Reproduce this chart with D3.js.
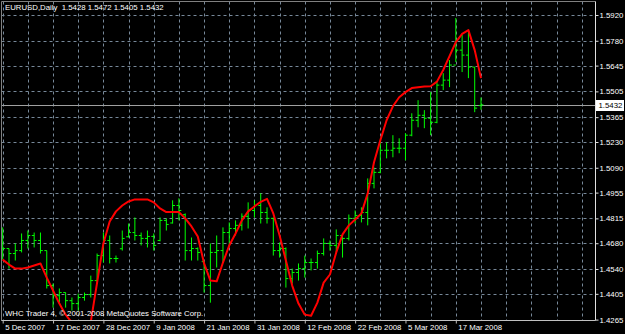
<!DOCTYPE html>
<html lang="en">
<head>
<meta charset="UTF-8">
<title>EURUSD,Daily</title>
<script src="https://d3js.org/d3.v7.min.js"></script>
<style>
    body { margin: 0; background: #000; }
    svg { display: block; background: #000; }
    text { font-family: "Liberation Sans", Arial, sans-serif; font-size: 7.8px; fill: #fff; }
</style>
</head>
<body>
<svg width="625" height="334"></svg>
<script>
// bar dates (one per daily bar)
const dates = [
    "5 Dec 2007", "6 Dec 2007", "7 Dec 2007", "10 Dec 2007", "11 Dec 2007", "12 Dec 2007", "13 Dec 2007", "14 Dec 2007",
    "17 Dec 2007", "18 Dec 2007", "19 Dec 2007", "20 Dec 2007", "21 Dec 2007", "24 Dec 2007", "26 Dec 2007", "27 Dec 2007",
    "28 Dec 2007", "31 Dec 2007", "1 Jan 2008", "2 Jan 2008", "3 Jan 2008", "4 Jan 2008", "7 Jan 2008", "8 Jan 2008",
    "9 Jan 2008", "10 Jan 2008", "11 Jan 2008", "14 Jan 2008", "15 Jan 2008", "16 Jan 2008", "17 Jan 2008", "18 Jan 2008",
    "21 Jan 2008", "22 Jan 2008", "23 Jan 2008", "24 Jan 2008", "25 Jan 2008", "28 Jan 2008", "29 Jan 2008", "30 Jan 2008",
    "31 Jan 2008", "1 Feb 2008", "4 Feb 2008", "5 Feb 2008", "6 Feb 2008", "7 Feb 2008", "8 Feb 2008", "11 Feb 2008",
    "12 Feb 2008", "13 Feb 2008", "14 Feb 2008", "15 Feb 2008", "18 Feb 2008", "19 Feb 2008", "20 Feb 2008", "21 Feb 2008",
    "22 Feb 2008", "25 Feb 2008", "26 Feb 2008", "27 Feb 2008", "28 Feb 2008", "29 Feb 2008", "3 Mar 2008", "4 Mar 2008",
    "5 Mar 2008", "6 Mar 2008", "7 Mar 2008", "10 Mar 2008", "11 Mar 2008", "12 Mar 2008", "13 Mar 2008", "14 Mar 2008",
    "17 Mar 2008", "18 Mar 2008", "19 Mar 2008", "20 Mar 2008", "21 Mar 2008"
];

const opens = [
    1.4720, 1.4651, 1.4624, 1.4640, 1.4695, 1.4722, 1.4695, 1.4640,
    1.4450, 1.4395, 1.4412, 1.4368, 1.4352, 1.4385, 1.4401, 1.4477,
    1.4613, 1.4695, 1.4597, 1.4650, 1.4715, 1.4738, 1.4722, 1.4706,
    1.4717, 1.4695, 1.4804, 1.4790, 1.4885, 1.4835, 1.4640, 1.4651,
    1.4580, 1.4450, 1.4630, 1.4640, 1.4738, 1.4760, 1.4777, 1.4826,
    1.4858, 1.4885, 1.4847, 1.4815, 1.4640, 1.4651, 1.4488, 1.4521,
    1.4542, 1.4575, 1.4575, 1.4624, 1.4679, 1.4668, 1.4722, 1.4706,
    1.4815, 1.4831, 1.4847, 1.5005, 1.5065, 1.5185, 1.5185, 1.5196,
    1.5196, 1.5267, 1.5348, 1.5375, 1.5359, 1.5337, 1.5539, 1.5566,
    1.5648, 1.5729, 1.5702, 1.5637, 1.5428
];
const highs = [
    1.4766, 1.4651, 1.4679, 1.4733, 1.4749, 1.4738, 1.4738, 1.4640,
    1.4461, 1.4434, 1.4412, 1.4385, 1.4406, 1.4412, 1.4504, 1.4624,
    1.4738, 1.4722, 1.4613, 1.4749, 1.4787, 1.4820, 1.4738, 1.4749,
    1.4733, 1.4820, 1.4815, 1.4913, 1.4924, 1.4842, 1.4711, 1.4657,
    1.4586, 1.4679, 1.4722, 1.4766, 1.4793, 1.4804, 1.4842, 1.4902,
    1.4913, 1.4951, 1.4875, 1.4820, 1.4684, 1.4657, 1.4542, 1.4570,
    1.4613, 1.4597, 1.4640, 1.4706, 1.4695, 1.4755, 1.4728, 1.4836,
    1.4858, 1.4875, 1.5032, 1.5092, 1.5228, 1.5228, 1.5267, 1.5250,
    1.5278, 1.5386, 1.5457, 1.5403, 1.5501, 1.5555, 1.5604, 1.5675,
    1.5904, 1.5811, 1.5838, 1.5637, 1.5472
];
const lows = [
    1.4591, 1.4542, 1.4586, 1.4630, 1.4651, 1.4657, 1.4624, 1.4434,
    1.4330, 1.4357, 1.4330, 1.4314, 1.4314, 1.4368, 1.4385, 1.4461,
    1.4575, 1.4570, 1.4575, 1.4640, 1.4711, 1.4695, 1.4668, 1.4657,
    1.4640, 1.4690, 1.4749, 1.4787, 1.4804, 1.4586, 1.4586, 1.4586,
    1.4412, 1.4357, 1.4548, 1.4575, 1.4657, 1.4722, 1.4749, 1.4760,
    1.4820, 1.4787, 1.4787, 1.4613, 1.4602, 1.4439, 1.4461, 1.4477,
    1.4493, 1.4532, 1.4542, 1.4613, 1.4640, 1.4630, 1.4602, 1.4695,
    1.4787, 1.4793, 1.4777, 1.4978, 1.5060, 1.5141, 1.5147, 1.5169,
    1.5130, 1.5261, 1.5310, 1.5305, 1.5267, 1.5332, 1.5512, 1.5528,
    1.5664, 1.5610, 1.5577, 1.5392, 1.5405
];
const closes = [
    1.4651, 1.4624, 1.4640, 1.4695, 1.4722, 1.4695, 1.4640, 1.4450,
    1.4395, 1.4412, 1.4368, 1.4352, 1.4385, 1.4401, 1.4477, 1.4613,
    1.4695, 1.4597, 1.4597, 1.4706, 1.4738, 1.4722, 1.4706, 1.4717,
    1.4668, 1.4804, 1.4782, 1.4885, 1.4858, 1.4640, 1.4651, 1.4630,
    1.4450, 1.4630, 1.4640, 1.4738, 1.4760, 1.4777, 1.4826, 1.4858,
    1.4885, 1.4847, 1.4815, 1.4640, 1.4651, 1.4488, 1.4521, 1.4542,
    1.4575, 1.4575, 1.4624, 1.4679, 1.4668, 1.4722, 1.4706, 1.4815,
    1.4831, 1.4847, 1.5005, 1.5065, 1.5185, 1.5185, 1.5196, 1.5196,
    1.5267, 1.5348, 1.5375, 1.5359, 1.5337, 1.5539, 1.5566, 1.5648,
    1.5729, 1.5702, 1.5637, 1.5414, 1.5432
];
// red smoothing indicator, one value per bar
const maLine = [
    1.4591, 1.4564, 1.4542, 1.4542, 1.4548, 1.4559, 1.4570, 1.4493,
    1.4423, 1.4352, 1.4292, 1.4248, 1.4188, 1.4161, 1.4254, 1.4466,
    1.4679, 1.4798, 1.4853, 1.4885, 1.4907, 1.4918, 1.4918, 1.4918,
    1.4902, 1.4869, 1.4849, 1.4849, 1.4849, 1.4815, 1.4771, 1.4717,
    1.4570, 1.4477, 1.4473, 1.4575, 1.4668, 1.4733, 1.4804, 1.4853,
    1.4880, 1.4905, 1.4921, 1.4842, 1.4722, 1.4586, 1.4450, 1.4352,
    1.4292, 1.4286, 1.4357, 1.4466, 1.4510, 1.4630, 1.4728, 1.4777,
    1.4809, 1.4842, 1.4951, 1.5120, 1.5239, 1.5348, 1.5424, 1.5473,
    1.5501, 1.5523, 1.5528, 1.5531, 1.5533, 1.5558, 1.5621, 1.5697,
    1.5773, 1.5817, 1.5838, 1.5729, 1.5577
];

const yTicks = [1.5920, 1.5780, 1.5645, 1.5505, 1.5365, 1.5230, 1.5090, 1.4955, 1.4815, 1.4680, 1.4540, 1.4405, 1.4265];
const xLabelIdx = [0, 8, 16, 24, 32, 40, 48, 56, 64, 72];
const gridIdx = d3.range(0, 96, 4);
const bidPrice = 1.5432;
const header = "EURUSD,Daily  1.5428 1.5472 1.5405 1.5432";
const copyright = "WHC Trader 4, \u00a9 2001-2008 MetaQuotes Software Corp.";

const svg = d3.select("svg");
const plotL = 1.5, plotR = 595.5, plotT = 1.5, plotB = 320.5;
const font = "Liberation Sans, Arial, sans-serif";

const x = d3.scaleLinear().domain([0, dates.length - 1]).range([2.7, 481]);
const y = d3.scaleLinear().domain([1.4265, 1.5920]).range([319.6, 15]);

svg.append("defs").append("clipPath").attr("id", "plot")
    .append("rect").attr("x", plotL).attr("y", plotT)
    .attr("width", plotR - plotL).attr("height", plotB - plotT);

// grid
const grid = svg.append("g")
    .attr("stroke", "#778899")
    .attr("stroke-width", 1)
    .attr("stroke-dasharray", "3,3");
grid.selectAll("line.h")
    .data(yTicks)
    .join("line")
    .attr("class", "h")
    .attr("x1", plotL).attr("x2", plotR)
    .attr("y1", d => Math.round(y(d)) + 0.5)
    .attr("y2", d => Math.round(y(d)) + 0.5);
grid.selectAll("line.v")
    .data(gridIdx)
    .join("line")
    .attr("class", "v")
    .attr("x1", d => Math.round(x(d)) + 0.5)
    .attr("x2", d => Math.round(x(d)) + 0.5)
    .attr("y1", plotT).attr("y2", plotB);

// bid line
svg.append("line")
    .attr("x1", plotL).attr("x2", plotR)
    .attr("y1", Math.round(y(bidPrice)) + 0.5)
    .attr("y2", Math.round(y(bidPrice)) + 0.5)
    .attr("stroke", "#a0a0a0");

const plot = svg.append("g").attr("clip-path", "url(#plot)");

// OHLC bars
plot.append("g")
    .attr("stroke", "#00ff00")
    .attr("stroke-width", 1)
    .attr("fill", "none")
    .selectAll("path")
    .data(dates.map((d, i) => i))
    .join("path")
    .attr("d", i => {
        const cx = x(i);
        return `M${cx},${y(highs[i])}V${y(lows[i])}` +
               `M${cx - 2.4},${y(opens[i])}H${cx}` +
               `M${cx},${y(closes[i])}H${cx + 2.4}`;
    });

// indicator line
plot.append("path")
    .datum(maLine)
    .attr("fill", "none")
    .attr("stroke", "#ff0000")
    .attr("stroke-width", 2)
    .attr("stroke-linejoin", "round")
    .attr("d", d3.line().x((d, i) => x(i)).y(d => y(d)));

// frame
svg.append("path")
    .attr("d", `M${plotL},${plotB}V${plotT}H${plotR}`)
    .attr("stroke", "#808080").attr("fill", "none");

// right price axis
const yAxis = svg.append("g")
    .attr("transform", `translate(${plotR},0)`)
    .call(d3.axisRight(y).tickValues(yTicks).tickSize(3).tickPadding(1).tickFormat(d3.format(".4f")));
yAxis.select(".domain").attr("stroke", "#e0e0e0").attr("d", `M0,${plotT}V${plotB}`);
yAxis.selectAll(".tick line").attr("stroke", "#e0e0e0");
yAxis.selectAll(".tick text").attr("fill", "#fff").style("font-size", "7.8px").style("font-family", font);

// bottom time axis
const xAxis = svg.append("g")
    .attr("transform", `translate(0,${plotB})`)
    .call(d3.axisBottom(x).tickValues(xLabelIdx).tickSize(3).tickPadding(1).tickFormat(i => dates[i]));
xAxis.select(".domain").attr("stroke", "#c0c0c0").attr("d", `M${plotL},0H${plotR}`);
xAxis.selectAll(".tick line").attr("stroke", "#c0c0c0");
xAxis.selectAll(".tick text")
    .attr("text-anchor", "start")
    .attr("x", 2)
    .attr("fill", "#fff").style("font-size", "7.8px").style("font-family", font);

// current price tag
const bidY = Math.round(y(bidPrice)) + 0.5;
svg.append("rect")
    .attr("x", 596.5).attr("y", bidY - 5)
    .attr("width", 27).attr("height", 10)
    .attr("fill", "#fff").attr("stroke", "#fff");
svg.append("text")
    .attr("x", 598.5).attr("y", bidY)
    .attr("dy", "0.34em")
    .style("fill", "#000")
    .text(d3.format(".4f")(bidPrice));

// header and copyright
svg.append("text")
    .attr("x", 5).attr("y", 10)
    .style("white-space", "pre")
    .text(header);
svg.append("text")
    .attr("x", 5).attr("y", 316)
    .text(copyright);
</script>
</body>
</html>
